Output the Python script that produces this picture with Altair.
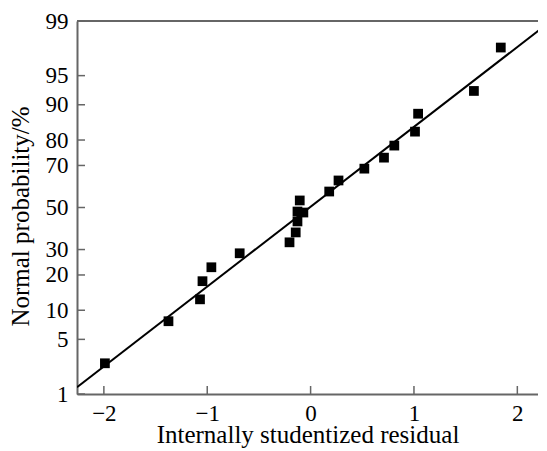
import altair as alt
import pandas as pd
from statistics import NormalDist

# ---- data ----
resid = [-1.99, -1.375, -1.07, -1.046, -0.96, -0.686, -0.204, -0.144, -0.127, -0.127,
         -0.07, -0.105, 0.18, 0.27, 0.52, 0.71, 0.81, 1.01, 1.04, 1.58, 1.84]
prob_pct = [2.6, 7.8, 12.6, 17.9, 22.8, 28.4, 33.2, 37.8, 43.1, 48.0,
            47.5, 53.5, 57.9, 63.2, 68.6, 73.3, 78.0, 82.8, 87.9, 92.7, 97.7]
fit_x = [-2.26, 2.24]
fit_pct = [1.25, 98.75]
y_tick_pct = [1, 5, 10, 20, 30, 50, 70, 80, 90, 95, 99]
x_ticks = [-2, -1, 0, 1, 2]

nd = NormalDist()
def z(p):
    return nd.inv_cdf(p / 100.0)

pts = pd.DataFrame({"x": resid, "z": [z(p) for p in prob_pct]})
fit = pd.DataFrame({"x": fit_x, "z": [z(p) for p in fit_pct]})
ytk = pd.DataFrame({"z": [z(p) for p in y_tick_pct]})
xtk = pd.DataFrame({"x": x_ticks})

W, H = 461, 373
FONT = "Liberation Serif, Times New Roman, serif"
GRAY = "#666666"
xdom = [-2.26, 2.2]
ydom = [z(1), z(99)]

xs = alt.Scale(domain=xdom, nice=False, zero=False)
ys = alt.Scale(domain=ydom, nice=False, zero=False)

xaxis = alt.Axis(values=x_ticks, format="d", labelPadding=8,
                 labelExpr="replace(datum.label, '-', '\u2212')",
                 title="Internally studentized residual",
                 titleBaseline="alphabetic", titleY=48, titleX=W / 2)
yaxis = alt.Axis(values=[z(p) for p in y_tick_pct], labelPadding=9,
                 labelExpr="format(cumulativeNormal(datum.value)*100, '.0f')",
                 title="Normal probability/%", titleAngle=270,
                 titleBaseline="alphabetic", titleX=-49, titleY=195, titleAlign="center")

line = alt.Chart(fit).mark_line(color="black", strokeWidth=2, clip=True).encode(
    x=alt.X("x:Q", scale=xs, axis=xaxis),
    y=alt.Y("z:Q", scale=ys, axis=yaxis),
)
points = alt.Chart(pts).mark_square(color="black", size=95, opacity=1).encode(
    x=alt.X("x:Q", scale=xs, axis=xaxis),
    y=alt.Y("z:Q", scale=ys, axis=yaxis),
)
yticks = alt.Chart(ytk).mark_rule(color=GRAY, strokeWidth=1.5).encode(
    y=alt.Y("z:Q", scale=ys, axis=yaxis), x=alt.value(0), x2=alt.value(8)
)
xticks = alt.Chart(xtk).mark_rule(color=GRAY, strokeWidth=1.5).encode(
    x=alt.X("x:Q", scale=xs, axis=xaxis), y=alt.value(H), y2=alt.value(H - 8)
)
topline = alt.Chart(xtk).mark_rule(color=GRAY, strokeWidth=2).encode(
    x=alt.value(0), x2=alt.value(W), y=alt.value(0)
)

chart = alt.layer(topline, yticks, xticks, line, points).properties(
    width=W, height=H,
    autosize=alt.AutoSizeParams(type="none"),
    padding={"left": 69, "top": 13, "right": 0, "bottom": 55},
).configure_view(stroke=None).configure(background="white").configure_axis(
    ticks=False, tickSize=0, grid=False, domainColor=GRAY, domainWidth=2,
    labelFont=FONT, labelFontSize=23, labelColor="black", labelOverlap=False,
    labelBound=False, labelFlush=False,
    titleFont=FONT, titleFontSize=25, titleFontWeight="normal", titleColor="black",
)

chart.save("out.html", embed_options={"renderer": "svg", "actions": False})
